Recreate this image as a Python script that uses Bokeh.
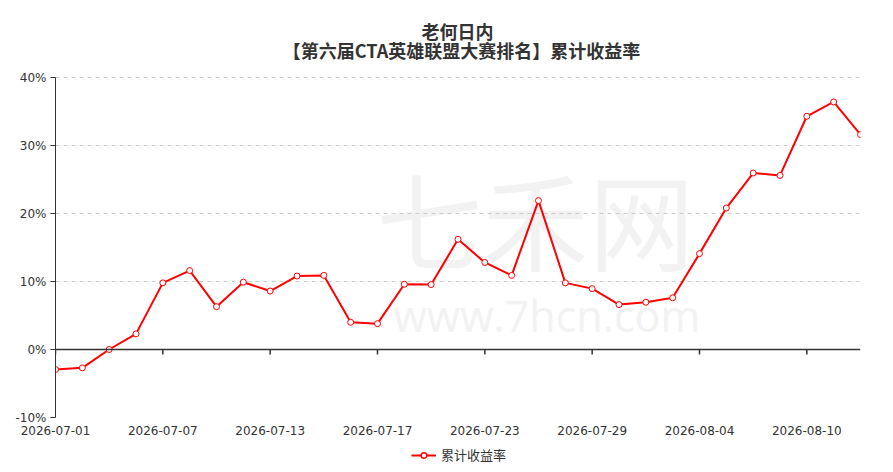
from bokeh.plotting import figure
from bokeh.layouts import column
from bokeh.models import (Range1d, FixedTicker, PrintfTickFormatter, Span,
                          Legend, LegendItem, Label, ColumnDataSource)
from bokeh.embed import file_html
from bokeh.resources import INLINE

# ---- data ----
dates = ["2026-07-01", "2026-07-02", "2026-07-03", "2026-07-06", "2026-07-07",
         "2026-07-08", "2026-07-09", "2026-07-10", "2026-07-13", "2026-07-14",
         "2026-07-15", "2026-07-16", "2026-07-17", "2026-07-20", "2026-07-21",
         "2026-07-22", "2026-07-23", "2026-07-24", "2026-07-27", "2026-07-28",
         "2026-07-29", "2026-07-30", "2026-07-31", "2026-08-03", "2026-08-04",
         "2026-08-05", "2026-08-06", "2026-08-07", "2026-08-10", "2026-08-11",
         "2026-08-12"]
returns = [-2.95, -2.7, 0.0, 2.3, 9.8, 11.6, 6.3, 9.9, 8.6, 10.8,
           10.9, 4.0, 3.8, 9.6, 9.55, 16.2, 12.8, 10.9, 21.9, 9.8,
           8.95, 6.6, 6.95, 7.6, 14.1, 20.8, 25.95, 25.6, 34.3, 36.4,
           31.6]
y_ticks = [-10, 0, 10, 20, 30, 40]
label_step = 4
series_name = "累计收益率"
title_line1 = "老何日内"
title_line2 = "【第六届CTA英雄联盟大赛排名】累计收益率"

idx = list(range(len(dates)))
x_ticks = idx[::label_step]
x_labels = {i: dates[i] for i in x_ticks}

RED = "#ff0000"
TXT = "#333333"
CJK = "Noto Sans CJK SC"

W = 877
TOP, BOTTOM_SPACE, LEFT, RIGHT = 77, 25, 55, 17
DATA_H = 340
px_per_unit = DATA_H / (y_ticks[-1] - y_ticks[0])
px_per_x = (W - LEFT - RIGHT) / (len(dates) - 1)
y_max = y_ticks[-1] + TOP / px_per_unit      # frame reaches the top edge (title area)
H1 = TOP + DATA_H + BOTTOM_SPACE

p = figure(width=W, height=H1, output_backend="svg", toolbar_location=None,
           x_range=Range1d(0, len(dates) - 1), y_range=Range1d(y_ticks[0], y_max),
           min_border_left=LEFT, min_border_right=RIGHT, min_border_top=0,
           min_border_bottom=BOTTOM_SPACE, title=None)
p.outline_line_color = None


def sx(px):
    return (px - LEFT) / px_per_x


def sy(py):
    return y_max - py / px_per_unit


# watermark
wm_col = "#f2f2f2"
p.add_layout(Label(x=sx(376), y=sy(216), text="七禾网",
                   text_color=wm_col, text_font=CJK, text_font_size="106px",
                   text_baseline="middle", text_align="left", level="image"))
p.add_layout(Label(x=sx(393), y=sy(315), text="www.7hcn.com",
                   text_color=wm_col, text_font="Open Sans", text_font_size="43px",
                   text_baseline="alphabetic", text_align="left", level="image"))

# titles
p.add_layout(Label(x=sx(457), y=sy(30), text=title_line1, text_color=TXT,
                   text_font=CJK, text_font_size="18px", text_font_style="bold",
                   text_align="center", text_baseline="middle"))
p.add_layout(Label(x=sx(461), y=sy(49), text=title_line2, text_color=TXT,
                   text_font=CJK, text_font_size="18px", text_font_style="bold",
                   text_align="center", text_baseline="middle"))

# grid
p.xgrid.visible = False
p.ygrid.ticker = FixedTicker(ticks=y_ticks)
p.ygrid.grid_line_color = "#cccccc"
p.ygrid.grid_line_dash = "4 4"

# y axis
ya = p.yaxis[0]
ya.ticker = FixedTicker(ticks=y_ticks)
ya.bounds = (y_ticks[0], y_ticks[-1])
ya.formatter = PrintfTickFormatter(format="%d%%")
ya.axis_line_color = TXT
ya.major_tick_line_color = TXT
ya.major_tick_out = 5
ya.major_tick_in = 0
ya.minor_tick_line_color = None
ya.major_label_text_font = "DejaVu Sans"
ya.major_label_text_font_size = "12px"
ya.major_label_text_color = TXT
ya.major_label_standoff = 4

# x axis: labels only at bottom
xa = p.xaxis[0]
xa.ticker = FixedTicker(ticks=x_ticks)
xa.major_label_overrides = x_labels
xa.axis_line_color = None
xa.major_tick_line_color = None
xa.minor_tick_line_color = None
xa.major_label_text_font = "DejaVu Sans"
xa.major_label_text_font_size = "12px"
xa.major_label_text_color = TXT
xa.major_label_standoff = 2

# zero axis line with ticks
p.add_layout(Span(location=0, dimension="width", line_color=TXT, line_width=1.5))
p.segment(x0=x_ticks, x1=x_ticks, y0=[0] * len(x_ticks),
          y1=[-5 / px_per_unit] * len(x_ticks), line_color=TXT, line_width=1.5)

# series
src = ColumnDataSource(dict(x=idx, y=returns))
p.line("x", "y", source=src, line_color=RED, line_width=2)
p.scatter("x", "y", source=src, size=6, marker="circle", fill_color="white",
          line_color=RED, line_width=1)

# legend strip below the chart (its own small figure, data kept out of view)
H2 = 22
leg = figure(width=W, height=H2, output_backend="svg", toolbar_location=None,
             x_range=Range1d(-100, -99), y_range=Range1d(-100, -99),
             x_axis_type=None, y_axis_type=None, min_border=0)
leg.outline_line_color = None
leg.grid.visible = False
lr = leg.line("x", "y", source=src, line_color=RED, line_width=2)
lm = leg.scatter("x", "y", source=src, size=11, marker="circle", fill_color="white",
                 line_color=RED, line_width=1.5)
legend = Legend(items=[LegendItem(label=series_name, renderers=[lr, lm])],
                location=(356, 0), orientation="horizontal",
                label_text_font=CJK, label_text_font_size="13px", label_text_color=TXT,
                glyph_width=25, glyph_height=14, label_height=14, label_standoff=5,
                padding=0, margin=0, border_line_color=None,
                background_fill_alpha=0)
leg.add_layout(legend)

page = column(p, leg, spacing=0)
open("out.html", "w").write(file_html(page, INLINE))
